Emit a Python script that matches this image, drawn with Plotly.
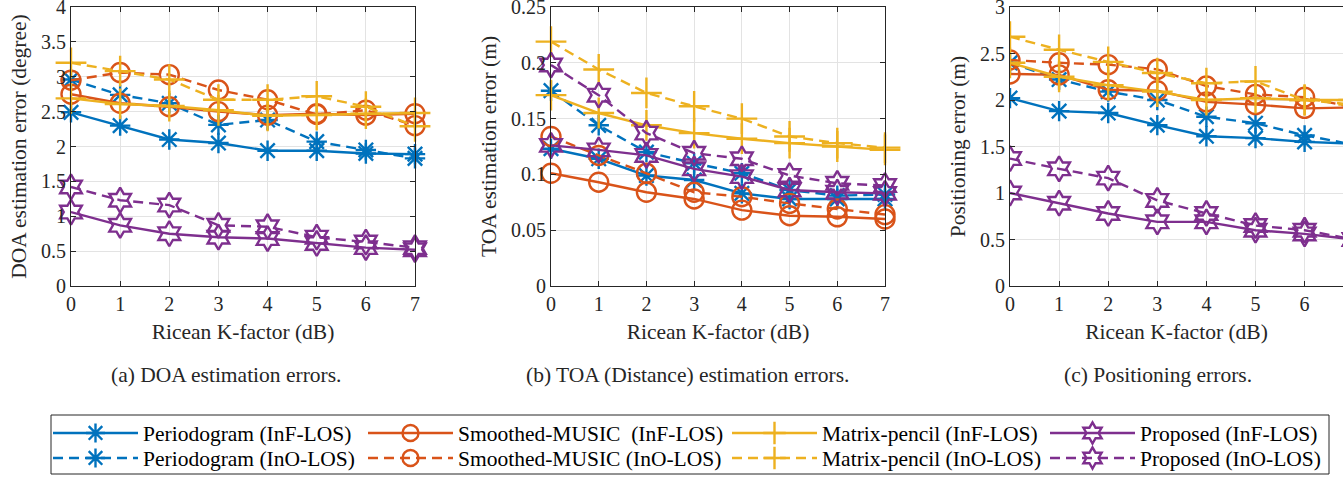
import plotly.graph_objects as go

K = [0, 1, 2, 3, 4, 5, 6, 7]

# (a) DOA estimation error (degree)
doa_per_inf = [2.49, 2.30, 2.10, 2.05, 1.94, 1.94, 1.90, 1.89]
doa_per_ino = [2.96, 2.74, 2.62, 2.31, 2.38, 2.07, 1.95, 1.83]
doa_mus_inf = [2.75, 2.62, 2.57, 2.50, 2.45, 2.47, 2.45, 2.47]
doa_mus_ino = [2.95, 3.06, 3.03, 2.81, 2.67, 2.46, 2.52, 2.30]
doa_mp_inf = [2.69, 2.61, 2.58, 2.52, 2.44, 2.45, 2.47, 2.48]
doa_mp_ino = [3.20, 3.08, 2.96, 2.67, 2.67, 2.72, 2.57, 2.29]
doa_pro_inf = [1.06, 0.87, 0.75, 0.70, 0.68, 0.61, 0.55, 0.52]
doa_pro_ino = [1.42, 1.23, 1.16, 0.87, 0.85, 0.70, 0.63, 0.55]

# (b) TOA estimation error (m)
toa_per_inf = [0.123, 0.114, 0.099, 0.095, 0.083, 0.078, 0.078, 0.078]
toa_per_ino = [0.175, 0.144, 0.120, 0.110, 0.101, 0.086, 0.081, 0.082]
toa_mus_inf = [0.101, 0.093, 0.084, 0.078, 0.068, 0.063, 0.062, 0.060]
toa_mus_ino = [0.134, 0.117, 0.101, 0.084, 0.080, 0.074, 0.069, 0.064]
toa_mp_inf = [0.171, 0.155, 0.144, 0.137, 0.132, 0.128, 0.125, 0.122]
toa_mp_ino = [0.219, 0.194, 0.173, 0.161, 0.150, 0.134, 0.128, 0.124]
toa_pro_inf = [0.126, 0.122, 0.117, 0.105, 0.098, 0.086, 0.084, 0.083]
toa_pro_ino = [0.198, 0.171, 0.137, 0.119, 0.114, 0.099, 0.092, 0.090]

# (c) Positioning error (m)
pos_per_inf = [2.02, 1.88, 1.86, 1.73, 1.61, 1.59, 1.55, 1.53]
pos_per_ino = [2.40, 2.22, 2.09, 2.00, 1.82, 1.75, 1.62, 1.52]
pos_mus_inf = [2.28, 2.27, 2.11, 2.10, 1.98, 1.95, 1.91, 1.92]
pos_mus_ino = [2.43, 2.40, 2.38, 2.33, 2.15, 2.06, 2.03, 1.92]
pos_mp_inf = [2.40, 2.25, 2.16, 2.09, 2.00, 2.02, 2.00, 2.00]
pos_mp_ino = [2.68, 2.54, 2.41, 2.29, 2.18, 2.20, 2.00, 1.95]
pos_pro_inf = [1.00, 0.89, 0.78, 0.69, 0.69, 0.60, 0.56, 0.50]
pos_pro_ino = [1.37, 1.26, 1.16, 0.92, 0.78, 0.65, 0.60, 0.50]

methods_inf = ["Periodogram", "Smoothed-MUSIC ", "Matrix-pencil", "Proposed"]
methods_ino = ["Periodogram", "Smoothed-MUSIC", "Matrix-pencil", "Proposed"]
colors = ["#0072BD", "#D95319", "#EDB120", "#7E2F8E"]
symbols = ["asterisk-open", "circle-open", "cross-thin-open", "hexagram-open"]
msizes = [17, 19, 22, 19]

panels = [
    [(doa_per_inf, doa_per_ino), (doa_mus_inf, doa_mus_ino), (doa_mp_inf, doa_mp_ino), (doa_pro_inf, doa_pro_ino)],
    [(toa_per_inf, toa_per_ino), (toa_mus_inf, toa_mus_ino), (toa_mp_inf, toa_mp_ino), (toa_pro_inf, toa_pro_ino)],
    [(pos_per_inf, pos_per_ino), (pos_mus_inf, pos_mus_ino), (pos_mp_inf, pos_mp_ino), (pos_pro_inf, pos_pro_ino)],
]

W, H = 1343, 478
FONT = "Liberation Serif"
TXT = "#262626"
DASH = "10px,6px"
TICK_FS = 20
LAB_FS = 21.5

fig = go.Figure()
for p, panel in enumerate(panels):
    xa = "x" if p == 0 else f"x{p+1}"
    ya = "y" if p == 0 else f"y{p+1}"
    for m, (inf, ino) in enumerate(panel):
        for k, (vals, dash, label) in enumerate([
            (inf, "solid", f"{methods_inf[m]} (InF-LOS)"),
            (ino, DASH, f"{methods_ino[m]} (InO-LOS)"),
        ]):
            lid = "legend" if (m == 0 and k == 0) else f"legend{m * 2 + k + 1}"
            fig.add_trace(go.Scatter(
                x=K, y=vals, xaxis=xa, yaxis=ya, mode="lines+markers",
                name=label, legend=lid, showlegend=(p == 0),
                line=dict(color=colors[m], width=2.4, dash=dash),
                marker=dict(symbol=symbols[m], size=msizes[m],
                            line=dict(color=colors[m], width=2.4), color=colors[m]),
                cliponaxis=(p == 2),
            ))

ytop = 1 - 7 / H
ybot = 1 - 286 / H
xdoms = [(71 / W, 415 / W), (551 / W, 885 / W), (1010 / W, 1.0)]
xranges = [[0, 7], [0, 7], [0, (W - 1010) / 49.1]]
yranges = [[0, 4], [0, 0.25], [0, 3]]
ydticks = [0.5, 0.05, 0.5]
ytitles = ["DOA estimation error (degree)", "TOA estimation error (m)", "Positioning error (m)"]

layout = dict(
    width=W, height=H, autosize=False,
    margin=dict(l=0, r=0, t=0, b=0, autoexpand=False),
    paper_bgcolor="white", plot_bgcolor="white",
    font=dict(family=FONT, size=TICK_FS, color=TXT),
    showlegend=True,
)
for p in range(3):
    suf = "" if p == 0 else str(p + 1)
    layout["xaxis" + suf] = dict(
        domain=list(xdoms[p]), range=xranges[p], anchor="y" + suf,
        tickmode="linear", tick0=0, dtick=1, automargin=False,
        showgrid=True, gridcolor="#e3e3e3", gridwidth=1,
        zeroline=False, showline=True, linecolor=TXT, linewidth=1,
        mirror="ticks", ticks="inside", ticklen=5, tickcolor=TXT,
        tickfont=dict(family=FONT, size=TICK_FS, color=TXT),
        ticklabeloverflow="allow",
        title=dict(text="Ricean K-factor (dB)", font=dict(family=FONT, size=LAB_FS, color=TXT), standoff=9),
    )
    layout["yaxis" + suf] = dict(
        domain=[ybot, ytop], range=yranges[p], anchor="x" + suf,
        tickmode="linear", tick0=0, dtick=ydticks[p], automargin=False,
        showgrid=True, gridcolor="#e3e3e3", gridwidth=1,
        zeroline=False, showline=True, linecolor=TXT, linewidth=1,
        mirror=("ticks" if p < 2 else False), ticks="inside", ticklen=5, tickcolor=TXT,
        tickfont=dict(family=FONT, size=TICK_FS, color=TXT),
        ticklabeloverflow="allow",
        title=dict(text=ytitles[p], font=dict(family=FONT, size=LAB_FS, color=TXT), standoff=8),
    )

# legends: one per entry, laid out as 4 columns x 2 rows
leg_col_x = [48, 363, 727, 1045]
leg_row_y = [433, 458]
for m in range(4):
    for k in range(2):
        idx = m * 2 + k
        lid = "legend" if idx == 0 else f"legend{idx + 1}"
        layout[lid] = dict(
            x=leg_col_x[m] / W, y=1 - leg_row_y[k] / H, xanchor="left", yanchor="middle",
            orientation="v", bgcolor="rgba(0,0,0,0)", borderwidth=0,
            font=dict(family=FONT, size=LAB_FS, color="black"),
            itemwidth=85,
        )

layout["shapes"] = [dict(
    type="rect", xref="paper", yref="paper",
    x0=51 / W, x1=1329 / W, y0=1 - 474 / H, y1=1 - 415 / H,
    line=dict(color=TXT, width=1), fillcolor="rgba(0,0,0,0)", layer="below",
)]

captions = [("(a) DOA estimation errors.", 226), ("(b) TOA (Distance) estimation errors.", 688),
            ("(c) Positioning errors.", 1158)]
layout["annotations"] = [dict(
    text=t, x=cx / W, y=1 - 375 / H, xref="paper", yref="paper",
    xanchor="center", yanchor="middle", showarrow=False,
    font=dict(family=FONT, size=LAB_FS, color=TXT),
) for t, cx in captions]

fig.update_layout(**layout)
fig.write_html("out.html")
